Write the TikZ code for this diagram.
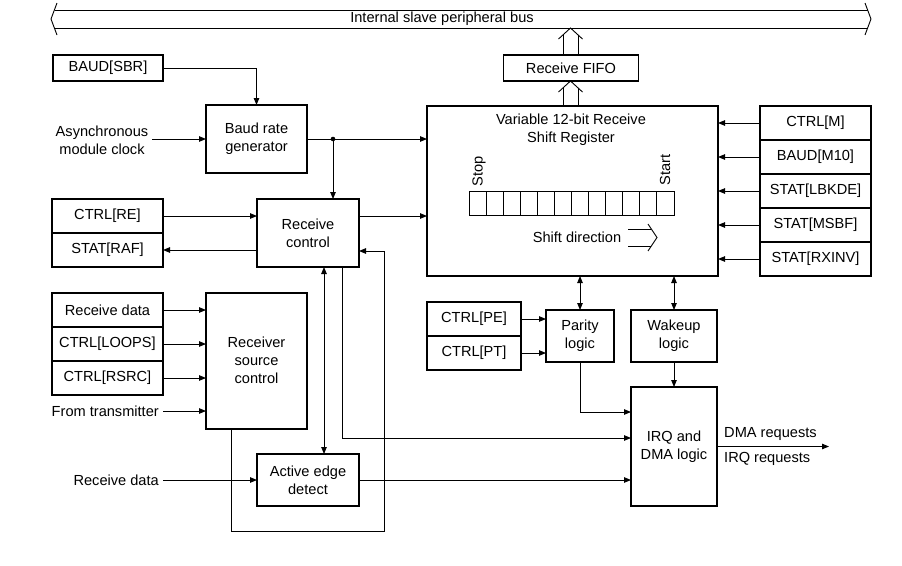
\documentclass[tikz,border=0pt]{standalone}
\usepackage{fontspec}
\setmainfont{Liberation Sans}
\usetikzlibrary{arrows.meta,calc}
\begin{document}
\begin{tikzpicture}[x=1pt,y=-1pt,
  font=\fontsize{14.6}{18}\selectfont,
  box/.style={draw, line width=1.8pt, inner sep=0pt, outer sep=0pt, align=center},
  wire/.style={line width=0.9pt},
  arr/.style={wire, -{Triangle[length=7pt,width=5.5pt]}},
  darr/.style={wire, {Triangle[length=7pt,width=5.5pt]}-{Triangle[length=7pt,width=5.5pt]}},
  lbl/.style={inner sep=4pt, align=center}]
\useasboundingbox (0,0) rectangle (902,565);

% ---- internal bus ----
\draw[wire] (54.5,10) -- (867.5,10);
\draw[wire] (54.5,28) -- (867.5,28);
\draw[wire] (57,3) -- (51,19) -- (57,35);
\draw[wire] (865,3) -- (871,19) -- (865,35);
\node[inner sep=0pt] (bus) at (442,19) {Internal slave peripheral bus};

% ---- blocks ----
\node[box, minimum width=110pt, minimum height=26pt] (sbr) at (108,68) {BAUD[SBR]};
\node[box, minimum width=135pt, minimum height=26pt] (fifo) at (571,68) {Receive FIFO};
\node[box, minimum width=101pt, minimum height=68pt] (baud) at (256.5,139) {Baud rate\\generator};
\node[box, minimum width=291pt, minimum height=170pt] (shreg) at (572.5,191) {};

\node[box, minimum width=111pt, minimum height=34pt] (ctrlm) at (815.5,123) {CTRL[M]};
\node[box, minimum width=111pt, minimum height=34pt] (m10)   at (815.5,157) {BAUD[M10]};
\node[box, minimum width=111pt, minimum height=34pt] (lbkde) at (815.5,191) {STAT[LBKDE]};
\node[box, minimum width=111pt, minimum height=34pt] (msbf)  at (815.5,225) {STAT[MSBF]};
\node[box, minimum width=111pt, minimum height=34pt] (rxinv) at (815.5,259) {STAT[RXINV]};

\node[box, minimum width=111pt, minimum height=34pt] (ctrlre) at (107.5,216) {CTRL[RE]};
\node[box, minimum width=111pt, minimum height=34pt] (raf)    at (107.5,250) {STAT[RAF]};
\node[box, minimum width=102pt, minimum height=68pt] (rctl)   at (308,233) {Receive\\control};

\node[box, minimum width=111pt, minimum height=34pt] (rdata) at (107.5,310) {Receive data};
\node[box, minimum width=111pt, minimum height=34pt] (loops) at (107.5,344) {CTRL[LOOPS]};
\node[box, minimum width=111pt, minimum height=34pt] (rsrc)  at (107.5,378) {CTRL[RSRC]};
\node[box, minimum width=101pt, minimum height=136pt] (rsc) at (256.5,361) {};
\node[align=center, inner sep=0pt] (rsctext) at (256.5,360) {Receiver\\source\\control};

\node[box, minimum width=102pt, minimum height=52pt] (aed) at (308,480) {Active edge\\detect};

\node[box, minimum width=94pt, minimum height=34pt] (pe) at (474,319) {CTRL[PE]};
\node[box, minimum width=94pt, minimum height=34pt] (pt) at (474,353) {CTRL[PT]};
\node[box, minimum width=68pt, minimum height=52pt] (parity) at (580,336) {Parity\\logic};
\node[box, minimum width=86pt, minimum height=52pt] (wake) at (674,336) {Wakeup\\logic};
\node[box, minimum width=86pt, minimum height=119pt] (irq) at (674,446.5) {IRQ and\\DMA logic};

% ---- shift register contents ----
\node[align=center, inner sep=0pt] (srtitle) at (571,130) {Variable 12-bit Receive\\Shift Register};
\node[rotate=90, inner sep=0pt] (stop) at (479,171) {Stop};
\node[rotate=90, inner sep=0pt] (start) at (665,170) {Start};
\foreach \i in {0,...,11}
  \draw[wire] (469+\i*17.08,191) rectangle ++(17.08,24);
\node[inner sep=0pt] (shdir) at (577,237) {Shift direction};
\draw[wire] (628,229) -- (650.7,229);
\draw[wire] (628,246) -- (650.7,246);
\draw[wire] (648,224) -- (657,237.5) -- (648,251);

% ---- free-standing labels ----
\node[lbl] (async) at (102,140) {Asynchronous\\module clock};
\node[lbl, anchor=east] (fromtx) at (163,411) {From transmitter};
\node[lbl, anchor=east] (rxd) at (163,480) {Receive data};
\node[inner sep=0pt, anchor=west] (dmareq) at (724,434) {DMA requests};
\node[inner sep=0pt, anchor=west] (irqreq) at (724,459) {IRQ requests};
\coordinate (out) at (829,446.5);

% ---- wide hollow arrows ----
\coordinate (busb) at ($(fifo.north |- 0,28)+(-0.5,0)$);
\draw[wire] ($(fifo.north)+(-8,0)$) -- ($(busb)+(-7.5,7)$);
\draw[wire] ($(fifo.north)+(7,0)$) -- ($(busb)+(7.5,7)$);
\draw[wire] ($(busb)+(-12,11)$) -- (busb) -- ($(busb)+(12,11)$);
\coordinate (fifob) at ($(fifo.south)+(-0.5,0)$);
\draw[wire] ($(fifob |- shreg.north)+(-7.5,0)$) -- ($(fifob)+(-7.5,7)$);
\draw[wire] ($(fifob |- shreg.north)+(7.5,0)$) -- ($(fifob)+(7.5,7)$);
\draw[wire] ($(fifob)+(-12,11)$) -- (fifob) -- ($(fifob)+(12,11)$);

% ---- connectors ----
\draw[arr] (sbr.east) -| (baud.north);
\draw[arr] (async.east |- baud.west) -- (baud.west);
\coordinate (j1) at ($(baud.east)+(26,0)$);
\draw[arr] (baud.east) -- (baud.east -| shreg.west);
\fill (j1) circle (2.3pt);
\draw[arr] (j1) -- (j1 |- rctl.north);

\draw[arr] (ctrlre.east) -- (ctrlre.east -| rctl.west);
\draw[arr] (raf.east -| rctl.west) -- (raf.east);
\coordinate (rcout) at ($(rctl.north east)+(0,17)$);
\draw[arr] (rcout) -- (rcout -| shreg.west);

\foreach \n in {ctrlm,m10,lbkde,msbf,rxinv}
  \draw[arr] (\n.west) -- (\n.west -| shreg.east);

\foreach \n in {rdata,loops,rsrc}
  \draw[arr] (\n.east) -- (\n.east -| rsc.west);
\draw[arr] (fromtx.east) -- (fromtx.east -| rsc.west);
\draw[arr] (rxd.east |- aed.west) -- (aed.west);

\draw[darr] ($(rctl.south)+(16,0)$) -- ($(aed.north)+(16,0)$);
\draw[arr] ($(rctl.south)+(34,0)$) |- ($(irq.west)+(0,-8.5)$);
\coordinate (loopc) at ($(aed.south east)+(25,25)$);
\coordinate (rcin) at ($(rctl.east)+(0,18)$);
\draw[arr] ($(rsc.south west)+(25,0)$) |- (loopc) |- (rcin);
\draw[arr] (aed.east) -- (aed.east -| irq.west);

\draw[arr] (pe.east) -- (pe.east -| parity.west);
\draw[arr] (pt.east) -- (pt.east -| parity.west);
\draw[darr] (parity.north |- shreg.south) -- (parity.north);
\draw[darr] (wake.north |- shreg.south) -- (wake.north);
\draw[arr] (wake.south) -- (irq.north);
\draw[arr] (parity.south) |- ($(irq.west)+(0,-34.5)$);
\draw[arr] (irq.east) -- (out);
\end{tikzpicture}
\end{document}
